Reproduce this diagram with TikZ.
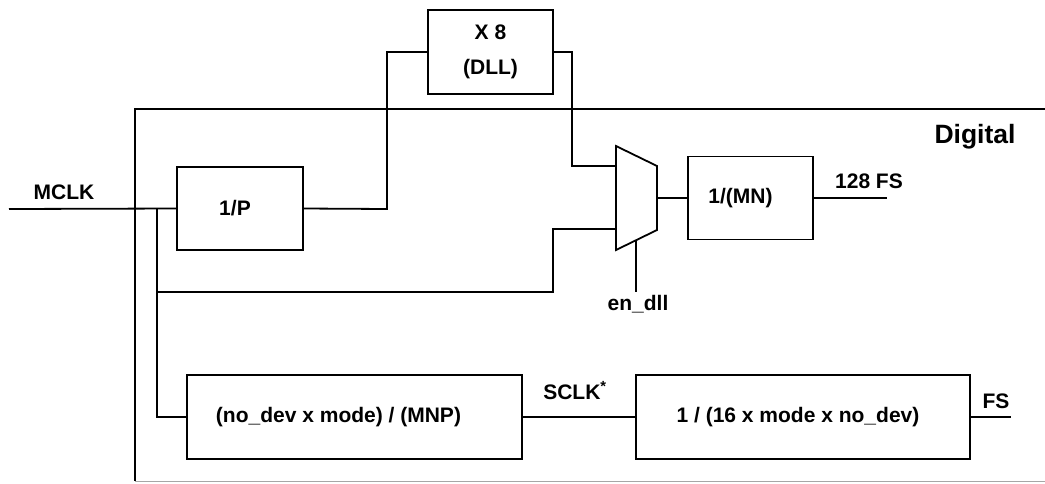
\documentclass[tikz,border=0pt]{standalone}
\usepackage{fontspec}
\setmainfont{Liberation Sans}
\begin{document}
\begin{tikzpicture}[x=1pt,y=-1pt,
  line width=1.8pt, line join=miter,
  every node/.style={font=\fontsize{21}{25}\selectfont\bfseries, inner sep=0pt},
  blk/.style={draw, line width=1.8pt, rectangle},
  lbl/.style={anchor=base}]
\useasboundingbox (0,0) rectangle (1045,483);
% frame
\draw (1045,109) -- (135,109) -- (135,481);
\draw[line width=1pt, gray!70] (135,481) -- (1045,481);
% blocks
\node[blk, minimum width=126pt, minimum height=83pt] (p) at (240,208.5) {1/P\hspace*{10pt}};
\node[blk, minimum width=125pt, minimum height=84pt, align=center] (dll) at (490.5,52) {X 8\\[10pt](DLL)};
\node[blk, minimum width=125pt, minimum height=83pt] (mn) at (750.5,198) {1/(MN)\hspace*{20pt}};
\node[blk, minimum width=335pt, minimum height=84pt] (b1) at (354.5,417) {(no\_dev x mode) / (MNP)\hspace*{32pt}};
\node[blk, minimum width=334pt, minimum height=84pt] (b2) at (803,417) {1 / (16 x mode x no\_dev)\hspace*{10pt}};
% mux
\draw (616,146) -- (657,166) -- (657,230) -- (616,250) -- cycle;
\coordinate (muxa) at (616,166);
\coordinate (muxb) at (616,229);
\coordinate (muxo) at (657,198);
\coordinate (muxs) at (636,240);
% coordinates
\coordinate (in) at (9,209);
\coordinate (j1) at (157,209);
\coordinate (j2) at (157,292);
\coordinate (j3) at (553,292);
\coordinate (dllin) at (387,209);
\coordinate (dllout) at (572,52);
\coordinate (ens) at (636,292);
\coordinate (o128) at (887,198);
\coordinate (ofs) at (1011,417);
% connectors
\draw (in) -- (p.west);
\draw (j1) -- (b1.west -| j1) -- (b1.west);
\draw (j2) -- (j3) -- (j3 |- muxb) -- (muxb);
\draw (p.east) -- (dllin) -- (dllin |- dll.west) -- (dll.west);
\draw (dll.east) -- (dllout) -- (dllout |- muxa) -- (muxa);
\draw[line width=1.5pt] (muxs) -- (ens);
\draw (muxo) -- (mn.west);
\draw (mn.east) -- (o128);
\draw (b1.east) -- (b2.west);
\draw (b2.east) -- (ofs);
% labels
\node[lbl] (lmclk) at (64,199) {MCLK};
\node[lbl] (lenc) at (638,310) {en\_dll};
\node[lbl] (l128) at (869,188) {128 FS};
\node[lbl] (lsclk) at (575,399) {SCLK\textsuperscript{*}};
\node[lbl] (lfs) at (996,408) {FS};
\node[lbl, font=\fontsize{26.5}{30}\selectfont\bfseries] (ldig) at (975,143) {Digital};
\end{tikzpicture}
\end{document}
